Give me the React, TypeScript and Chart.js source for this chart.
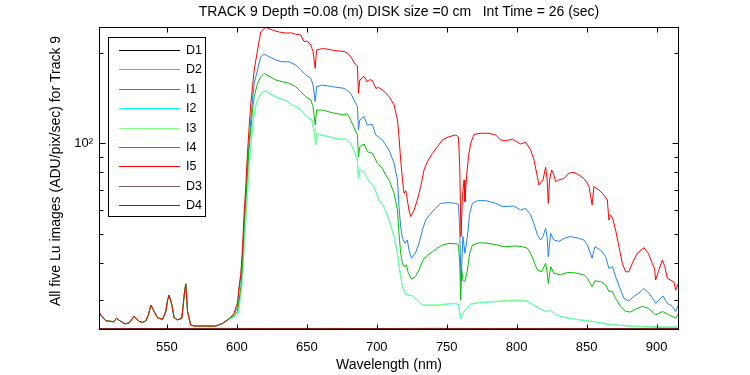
import React, { useEffect, useRef } from 'react';
import { Chart, registerables } from 'chart.js';

Chart.register(...registerables);

const titleText = 'TRACK 9 Depth =0.08 (m) DISK size =0 cm   Int Time = 26 (sec)';
const xLabelText = 'Wavelength (nm)';
const yLabelText = 'All five Lu images (ADU/pix/sec) for Track 9';

const xMin = 501.5;
const xMax = 916;
const yMin = 23.86;
const yMax = 244.2;
const xTicks = [550, 600, 650, 700, 750, 800, 850, 900];
const yTicks = [30, 40, 50, 60, 70, 80, 90, 100, 200];
const yMajorTicks = [100];

const seriesNames = ['D1', 'D2', 'I1', 'I2', 'I3', 'I4', 'I5', 'D3', 'D4'];
const seriesColors = ['#000000', '#999999', '#1e82f0', '#00ffff', '#80ff80', '#00c000', '#ff0000', '#7f5f5f', '#7f2020'];

// shared low band (500-595 nm) where the five Lu curves overlap
const lowWl = [501.6, 503.5, 506.4, 510, 512, 514, 517, 520.2, 523, 526.6, 530, 532.6, 535, 536.8, 538.6, 540.9, 543.4, 547, 549.3, 550.5, 551.6, 553.6, 555.2, 557.6, 560.7, 562.4, 563.5, 564.8, 567, 569.5, 577, 585, 589.8, 594.5];
const lowVal = [27.3, 26.5, 25.6, 25.5, 25.4, 26.1, 25.5, 25.0, 25.2, 26.5, 25.5, 25.3, 25.6, 26.8, 28.9, 27.5, 26.2, 25.9, 27.6, 30.0, 31.2, 28.9, 26.2, 25.8, 26.1, 31.2, 34.0, 27.5, 24.8, 24.6, 24.6, 24.6, 25.1, 26.0];

const i5Wl = [598, 600.5, 601.6, 602.9, 604.1, 605.2, 606.4, 607.6, 608.8, 610, 611.2, 612.4, 614.8, 617.1, 619.5, 620.7, 622, 625.5, 628, 630.2, 635, 638.6, 642, 645.7, 648, 650.5, 652.9, 654.5, 656, 657, 661.2, 666, 670.7, 676.6, 679, 681.4, 684.5, 686.2, 686.9, 687.9, 690.9, 693.3, 695, 696.9, 699.3, 701.5, 704, 706, 708.8, 712.4, 714.8, 715.9, 717.1, 718.4, 719.5, 720.7, 721.9, 723, 724.3, 726.6, 729, 731.4, 733.8, 736.2, 739.8, 743.3, 746.9, 751.6, 756.4, 758.4, 759.3, 760.2, 761.2, 762.4, 763, 764, 765.5, 767.1, 769.5, 774.3, 780.2, 785, 788.6, 792.1, 797, 799.3, 802.9, 806.4, 810, 812.4, 814.8, 815.9, 818.8, 820.7, 821.8, 822.6, 823.5, 825, 826.6, 827.9, 830.2, 833.8, 837.4, 841, 844.5, 848.1, 850.5, 851.7, 853.9, 855.2, 858.8, 862.4, 864.8, 865.9, 867.1, 868.4, 870.7, 873.1, 875.5, 877.9, 880.2, 882.6, 886.2, 890.9, 894.1, 896.9, 898.6, 899.3, 901.2, 904.1, 905.9, 907.6, 910, 912.4, 913.6, 915.5];
const i5Val = [27.1, 29.5, 33.3, 36.9, 45.2, 58.4, 71.7, 92.6, 113.6, 135.9, 154.4, 175.5, 204.6, 235, 241, 243.5, 242, 238.6, 236.5, 235, 233, 233.5, 231, 229.6, 218.5, 219, 212.7, 202, 177.8, 204.6, 207, 205.5, 203.5, 202.5, 200, 194.4, 183.9, 181, 146.8, 162.6, 167.2, 160.4, 163, 162, 152.5, 153.5, 150.5, 148, 143, 134.2, 119.6, 105.2, 88, 75.5, 68.1, 69.5, 64.7, 59.9, 57.0, 59.9, 64.7, 71.7, 81.5, 87.0, 92.6, 97.4, 102.6, 105.2, 106.6, 105, 83.6, 48.9, 66.4, 75.5, 63.9, 75.5, 90.2, 100, 107.1, 108, 108, 106.6, 102.6, 102, 103.2, 101.5, 99.5, 100.8, 95, 88, 77.3, 72.6, 75.5, 83.2, 75.5, 63.1, 75.5, 81.5, 78.4, 74.5, 75.5, 76.3, 79.6, 80, 78.4, 76.3, 73.6, 71.7, 62.3, 71.7, 69.9, 67.2, 64.7, 55.5, 57.7, 56.5, 51.4, 45.2, 39.8, 37.3, 37.3, 39.8, 43.0, 44.9, 43, 39.8, 38.1, 35, 37.3, 40.8, 38.8, 35.5, 35, 34.5, 32.4, 34.1];

const i1Wl = [598, 600.5, 601.6, 602.9, 604.1, 606.4, 607.6, 608.8, 610, 611.2, 612.4, 614.8, 617.1, 619.5, 623.1, 627.9, 632.6, 637.4, 642.1, 645.7, 649.3, 652.9, 654.5, 656, 657, 661.2, 668.4, 676.6, 679, 681.4, 685, 686.2, 686.9, 687.9, 690.9, 693.3, 696.9, 699.3, 704, 708.8, 712.4, 714.8, 715.9, 717.1, 718.4, 720.2, 721.9, 723, 724.8, 727.6, 730.2, 732.6, 735, 738.6, 742.1, 745.7, 751.6, 756.4, 758.4, 759.3, 760.2, 761.6, 763, 764.8, 766.4, 768.4, 771.9, 777.9, 785, 789.8, 798, 802.9, 806.4, 810, 812.4, 814.8, 817.1, 818.8, 820.7, 821.8, 822.6, 824.3, 826.6, 830.2, 833.8, 838.6, 844.5, 848.1, 850.5, 853.9, 855.9, 860, 863.6, 865.9, 868.4, 870.7, 874.3, 876.7, 880.2, 883.8, 887.4, 890.9, 894.5, 898.1, 899.3, 901.6, 904.5, 907.6, 911.2, 913.6, 915.5];
const i1Val = [26.9, 28.5, 32.4, 36.5, 43, 66.4, 83.6, 100, 119.6, 139.4, 158.5, 175.5, 194.4, 198.4, 194.4, 189.5, 187, 187, 182.4, 175.5, 168.9, 164.7, 156.4, 137.6, 154.4, 156.4, 154.4, 152.5, 150, 146.8, 135.9, 132.4, 110.8, 119.6, 122.7, 115.1, 115.5, 106.6, 102.6, 95, 85.8, 75.5, 61.5, 52.7, 48.2, 46.4, 47.6, 44.1, 41.4, 43, 46.4, 51.4, 55.5, 58.4, 60.7, 63.1, 63.4, 63.1, 62.5, 51.4, 34.5, 48.9, 43, 48.9, 58.4, 63.1, 64.4, 64.4, 63.1, 61.5, 61.8, 59.9, 60.7, 57.7, 53.9, 49.5, 47.6, 48.9, 52.1, 48.5, 41.9, 50.1, 47.6, 47.1, 48.2, 48.9, 48.2, 47.6, 45.8, 41.4, 45.2, 44.1, 41.9, 38.3, 38.8, 35.9, 32.4, 30.4, 29.8, 30.9, 31.7, 32.8, 31.6, 30, 29.3, 30, 31, 29.3, 28.6, 27.5, 28.9];

const i4Wl = [598, 600.5, 602.9, 604.1, 605.2, 606.4, 607.6, 608.8, 610, 611.2, 612.4, 614.8, 617.1, 619.5, 623.1, 627.9, 632.6, 637.4, 642.1, 645.7, 649.3, 652.9, 654.5, 656, 657, 661.2, 668.4, 676.6, 679, 681.4, 684.5, 686.2, 686.9, 687.9, 690.9, 693.3, 696.9, 700.5, 704, 706.4, 708.8, 712.4, 714.8, 715.9, 717.1, 718.4, 719.5, 721.2, 722.6, 725, 727.6, 730.2, 733, 736.2, 739.8, 743.3, 746.9, 751.6, 757.6, 758.4, 759.3, 760, 760.7, 761.6, 763, 764.8, 766.4, 768.4, 773.1, 780.2, 786.2, 790.9, 799.3, 804.1, 807.6, 810, 812.4, 814.8, 817.9, 820.7, 821.8, 822.6, 824.3, 826.6, 831.4, 836.2, 841.9, 848.1, 850.5, 853.9, 855.9, 860, 863.6, 865.9, 868.4, 870.7, 874.3, 877.9, 881.4, 885, 889.8, 894.1, 898.1, 899.3, 904.1, 908.8, 913.6, 915.5];
const i4Val = [26.6, 27.5, 33.3, 39.8, 52.7, 64.7, 79.4, 97.4, 110.8, 129.1, 143, 158.5, 166.6, 171.1, 167.2, 162.6, 160.4, 158.5, 154.4, 148.5, 143, 139.4, 132.4, 115.1, 129.1, 129.1, 126.4, 124.3, 125.5, 119.6, 110.8, 106.6, 90.2, 97.4, 99.5, 93.8, 92.6, 85.8, 82.5, 78.4, 75.5, 68.1, 59.9, 50.1, 43, 39.8, 38.8, 39.3, 36.9, 35.2, 35.9, 37.8, 40.8, 42.4, 43.5, 44.7, 45.8, 46.4, 46.2, 45.8, 40, 30, 37.8, 35, 34.6, 37.8, 43, 45.8, 46.6, 46.4, 45.8, 45.2, 45.5, 45.2, 44.7, 43, 40.3, 37.8, 37.3, 39.8, 37, 34.1, 38.8, 36.9, 36.4, 37.1, 37, 36.4, 35.5, 33.3, 34.8, 34.6, 33.7, 32.1, 32.1, 30.4, 28.6, 27.5, 27.4, 28, 28.6, 28.2, 27.1, 26.8, 27.5, 26.8, 26.1, 27.1];

const i3Wl = [598, 600.5, 602, 603.3, 604.1, 605.2, 606.4, 607.6, 608.8, 610, 611.2, 612.4, 614, 616, 618.4, 620.7, 625.5, 630.2, 635, 639.8, 643.4, 647, 650.5, 653.6, 655.2, 656.4, 657.1, 660, 665.9, 670.7, 677.9, 681.4, 684.5, 686.2, 686.9, 687.9, 690.9, 694.5, 698.1, 701.6, 705.2, 708.8, 712.4, 714.8, 716.4, 718.4, 720.7, 725.5, 732.6, 742.1, 749.3, 756.4, 758.4, 760, 761.6, 763.6, 767.1, 773.1, 780.2, 787.4, 798, 806.4, 812.4, 817.1, 821.9, 824.3, 827.9, 835, 842.1, 849.3, 856.4, 863.6, 870.7, 880.2, 889.8, 904.1, 915.5];
const i3Val = [26.3, 26.8, 29.5, 33, 36, 45.2, 55.5, 68.1, 83.6, 97.4, 113.6, 125.9, 135.9, 143, 148.5, 149.5, 144.9, 141.2, 139.4, 134.2, 131.8, 127.4, 122.1, 119.6, 110.8, 98.7, 108, 106.6, 105.2, 103.9, 103.1, 100, 92.6, 88, 76.4, 81.5, 80.4, 74.5, 71.7, 64.7, 61.5, 55.5, 48.9, 43, 37.8, 33.3, 31.4, 31, 28.9, 28.9, 29.1, 29.3, 29, 26.1, 27.1, 28.1, 29.1, 29.5, 29.6, 29.8, 30, 29.9, 28.9, 28, 27.5, 27.8, 26.8, 26.3, 25.9, 25.7, 25.4, 25.0, 24.8, 24.6, 24.5, 24.4, 24.4];

const i2Wl = [598, 600.5, 602, 603.3, 604.1, 605.2, 606.4, 607.6, 608.8, 610, 611.2, 612.4, 614, 616, 618.4, 620.7, 625.5, 630.2, 635, 639.8, 643.4, 647, 650.5, 653.6, 655.2, 656.4, 657.1, 660, 665.9, 670.7, 677.9, 681.4, 684.5, 686.2, 686.9, 687.9, 690.9, 694.5, 698.1, 701.6, 705.2, 708.8, 712.4, 714.8, 716.4, 718.4, 720.7, 725.5, 732.6, 742.1, 749.3, 756.4, 758.4, 760, 761.6, 763.6, 767.1, 773.1, 780.2, 787.4, 798, 806.4, 812.4, 817.1, 821.9, 824.3, 827.9, 835, 842.1, 849.3, 856.4, 863.6, 870.7, 880.2, 889.8, 904.1, 915.5];
const i2Val = [26.3, 26.8, 29.4, 33, 36, 45.1, 55.5, 68, 83.6, 97.3, 113.6, 125.8, 135.9, 143, 148.3, 149.5, 144.6, 141.2, 139.2, 134.2, 131.6, 127.4, 122, 119.6, 110.6, 98.7, 107.8, 106.6, 105.2, 103.7, 103.1, 100, 92.4, 88, 76.3, 81.5, 80.2, 74.5, 71.6, 64.7, 61.4, 55.5, 48.8, 43, 37.8, 33.3, 31.3, 31, 28.9, 28.8, 29.1, 29.2, 29, 26, 27.1, 28, 29.1, 29.4, 29.6, 29.7, 30, 29.9, 28.8, 28, 27.4, 27.8, 26.8, 26.2, 25.9, 25.6, 25.4, 25.0, 24.8, 24.6, 24.5, 24.4, 24.4];

const darkWl = [501.5, 540, 580, 620, 660, 700, 740, 780, 820, 860, 900, 916];
const d1Val = [24.02, 24.0, 24.01, 24.0, 24.02, 24.0, 24.01, 24.0, 24.02, 24.0, 24.01, 24.0];
const d2Val = [24.05, 24.03, 24.04, 24.05, 24.03, 24.04, 24.05, 24.03, 24.04, 24.05, 24.03, 24.04];
const d3Val = [24.12, 24.1, 24.14, 24.1, 24.12, 24.11, 24.13, 24.1, 24.12, 24.11, 24.1, 24.12];
const d4Val = [24.15, 24.13, 24.16, 24.14, 24.15, 24.13, 24.16, 24.14, 24.15, 24.13, 24.16, 24.14];

const FONT = '"Liberation Sans", Arial, Helvetica, sans-serif';

function pts(wl: number[], val: number[]) {
  return wl.map((w, i) => ({ x: w, y: val[i] }));
}

const seriesData = [
  pts(darkWl, d1Val),
  pts(darkWl, d2Val),
  pts(lowWl.concat(i1Wl), lowVal.concat(i1Val)),
  pts(lowWl.concat(i2Wl), lowVal.concat(i2Val)),
  pts(lowWl.concat(i3Wl), lowVal.concat(i3Val)),
  pts(lowWl.concat(i4Wl), lowVal.concat(i4Val)),
  pts(lowWl.concat(i5Wl), lowVal.concat(i5Val)),
  pts(darkWl, d3Val),
  pts(darkWl, d4Val),
];

const decorPlugin = {
  id: 'matlabDecor',
  afterDatasetsDraw(chart: any) {
    const { ctx, chartArea: a, scales } = chart;
    ctx.save();
    ctx.strokeStyle = '#000';
    ctx.lineWidth = 1;
    const L = Math.round(a.left) + 0.5;
    const R = Math.round(a.right) - 0.5;
    const T = Math.round(a.top) + 0.5;
    const B = Math.round(a.bottom) - 0.5;
    ctx.strokeRect(L, T, R - L, B - T);
    ctx.beginPath();
    for (const v of xTicks) {
      const px = Math.round(scales.x.getPixelForValue(v)) + 0.5;
      ctx.moveTo(px, B); ctx.lineTo(px, B - 5);
      ctx.moveTo(px, T); ctx.lineTo(px, T + 5);
    }
    for (const v of yTicks) {
      const py = Math.round(scales.y.getPixelForValue(v)) + 0.5;
      const len = yMajorTicks.includes(v) ? 6 : 4;
      ctx.moveTo(L, py); ctx.lineTo(L + len, py);
      ctx.moveTo(R, py); ctx.lineTo(R - len, py);
    }
    ctx.stroke();

    // legend
    const lx0 = 108.5, ly0 = 37.5, lx1 = 205.5, ly1 = 216.5;
    ctx.fillStyle = '#fff';
    ctx.fillRect(lx0, ly0, lx1 - lx0, ly1 - ly0);
    ctx.strokeStyle = '#000';
    ctx.strokeRect(lx0, ly0, lx1 - lx0, ly1 - ly0);
    ctx.font = '12.5px ' + FONT;
    ctx.textBaseline = 'middle';
    ctx.textAlign = 'left';
    chart.data.datasets.forEach((ds: any, i: number) => {
      const yy = Math.round(50 + i * 19.4) + 0.5;
      ctx.strokeStyle = ds.borderColor;
      ctx.beginPath();
      ctx.moveTo(119, yy); ctx.lineTo(180, yy);
      ctx.stroke();
      ctx.fillStyle = '#000';
      ctx.fillText(ds.label, 186, yy);
    });

    // title and axis labels
    ctx.fillStyle = '#000';
    ctx.font = '14px ' + FONT;
    ctx.textAlign = 'center';
    ctx.textBaseline = 'middle';
    ctx.fillText(titleText, 399, 12);
    ctx.fillText(xLabelText, (a.left + a.right) / 2, 365);
    ctx.translate(56, 171);
    ctx.rotate(-Math.PI / 2);
    ctx.fillText(yLabelText, 0, 0);
    ctx.restore();
  },
};

export default function App() {
  const ref = useRef<HTMLCanvasElement | null>(null);
  useEffect(() => {
    document.body.style.margin = '0';
    const canvas = ref.current;
    if (!canvas) return;
    const chart = new Chart(canvas, {
      type: 'line',
      data: {
        datasets: seriesNames.map((name, i) => ({
          label: name,
          data: seriesData[i],
          borderColor: seriesColors[i],
          backgroundColor: seriesColors[i],
          borderWidth: 1,
          pointRadius: 0,
          tension: 0,
          fill: false,
          order: -i,
        })),
      },
      options: {
        animation: false,
        responsive: false,
        maintainAspectRatio: false,
        layout: { padding: { top: 27, right: 71, left: 0, bottom: 0 } },
        plugins: { legend: { display: false }, title: { display: false }, tooltip: { enabled: false } },
        scales: {
          x: {
            type: 'linear',
            min: xMin,
            max: xMax,
            grid: { display: false, drawTicks: false },
            border: { display: false },
            ticks: { color: '#000', font: { family: FONT, size: 13 }, padding: 10, autoSkip: false, maxRotation: 0 },
            afterBuildTicks: (scale: any) => { scale.ticks = xTicks.map((v) => ({ value: v })); },
            afterFit: (scale: any) => { scale.height = 45; },
          },
          y: {
            type: 'logarithmic',
            min: yMin,
            max: yMax,
            grid: { display: false, drawTicks: false },
            border: { display: false },
            ticks: {
              color: '#000',
              font: { family: FONT, size: 13 },
              padding: 6,
              autoSkip: false,
              callback: (v: any) => (yMajorTicks.includes(Number(v)) ? '10\u00b2' : ''),
            },
            afterBuildTicks: (scale: any) => { scale.ticks = yTicks.map((v) => ({ value: v, major: yMajorTicks.includes(v) })); },
            afterFit: (scale: any) => { scale.width = 99; },
          },
        },
      },
      plugins: [decorPlugin],
    });
    return () => chart.destroy();
  }, []);
  return (
    <div style={{ position: 'absolute', left: 0, top: 0, width: 750, height: 375, background: '#fff' }}>
      <canvas ref={ref} width={750} height={375} style={{ width: 750, height: 375, display: 'block' }} />
    </div>
  );
}
